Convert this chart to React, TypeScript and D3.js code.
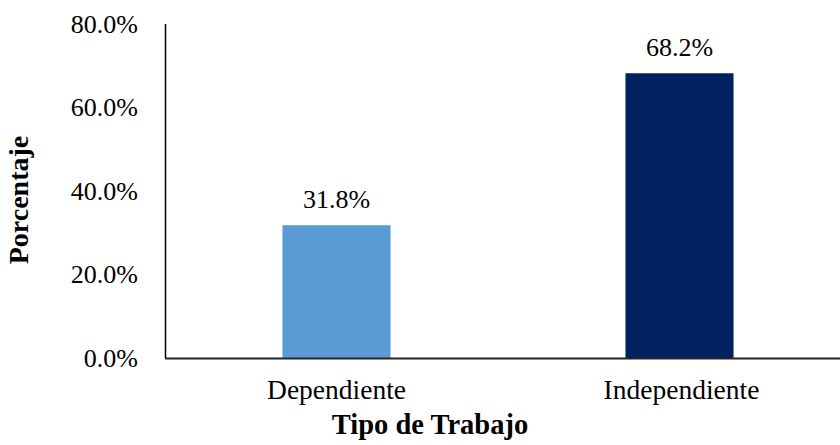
import React from "react";
import * as d3 from "d3";

const categories = ["Dependiente", "Independiente"];
const values = [31.8, 68.2];
const colors = ["#5B9BD5", "#002060"];
const yTicks = [0, 20, 40, 60, 80];

const W = 840;
const H = 445;
const FONT = "'Liberation Serif', 'Times New Roman', serif";

export default function App() {
  const y = d3.scaleLinear().domain([0, 80]).range([358, 24]);
  const x = d3
    .scaleBand<string>()
    .domain(categories)
    .range([165, 851])
    .paddingInner(0.685)
    .paddingOuter(0.3425);
  const fmt = (v: number) => v.toFixed(1) + "%";
  return (
    <svg
      width={W}
      height={H}
      style={{ position: "absolute", left: 0, top: 0, background: "#fff" }}
      fontFamily={FONT}
    >
      {yTicks.map((t) => (
        <text
          key={t}
          x={138}
          y={y(t)}
          dy="0.33em"
          textAnchor="end"
          fontSize={26}
          fill="#000"
        >
          {fmt(t)}
        </text>
      ))}
      {categories.map((c, i) => (
        <g key={c}>
          <rect
            x={x(c)}
            y={y(values[i])}
            width={x.bandwidth()}
            height={y(0) - y(values[i])}
            fill={colors[i]}
          />
          <text
            x={(x(c) as number) + x.bandwidth() / 2}
            y={y(values[i]) - 17}
            textAnchor="middle"
            fontSize={26}
            fill="#000"
          >
            {fmt(values[i])}
          </text>
          <text
            x={(x(c) as number) + x.bandwidth() / 2 + i * 2}
            y={399}
            textAnchor="middle"
            fontSize={27.5}
            fill="#000"
          >
            {c}
          </text>
        </g>
      ))}
      <line x1={165.5} x2={165.5} y1={y(80)} y2={y(0)} stroke="#000" strokeWidth={1.5} />
      <line x1={165} x2={840} y1={358.5} y2={358.5} stroke="#262626" strokeWidth={1.8} />
      <text
        transform={`translate(28,200) rotate(-90)`}
        textAnchor="middle"
        fontSize={28}
        fontWeight="bold"
        fill="#000"
      >
        Porcentaje
      </text>
      <text x={430} y={434} textAnchor="middle" fontSize={28.5} fontWeight="bold" fill="#000">
        Tipo de Trabajo
      </text>
    </svg>
  );
}
